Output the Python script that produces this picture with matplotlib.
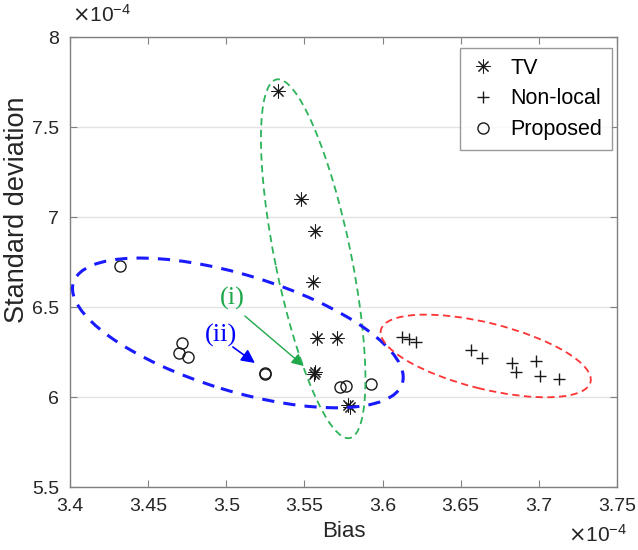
import numpy as np
import matplotlib
matplotlib.use("Agg")
import matplotlib.pyplot as plt
from matplotlib.patches import Ellipse
from matplotlib.transforms import IdentityTransform

# values in units of 1e-4
tv_bias = [3.533, 3.548, 3.557, 3.5556, 3.558, 3.571, 3.5562, 3.5565, 3.5776, 3.579]
tv_std = [7.70, 7.10, 6.92, 6.64, 6.33, 6.33, 6.13, 6.14, 5.955, 5.945]

nl_bias = [3.6127, 3.617, 3.6217, 3.6568, 3.6634, 3.683, 3.6856, 3.6984, 3.7007, 3.7127]
nl_std = [6.335, 6.32, 6.304, 6.261, 6.215, 6.19, 6.141, 6.202, 6.117, 6.098]

pr_bias = [3.432, 3.4718, 3.4697, 3.4752, 3.5247, 3.5250, 3.5726, 3.5765, 3.5929]
pr_std = [6.73, 6.30, 6.243, 6.22, 6.128, 6.132, 6.057, 6.061, 6.072]

xticks = [3.4, 3.45, 3.5, 3.55, 3.6, 3.65, 3.7, 3.75]
yticks = [5.5, 6, 6.5, 7, 7.5, 8]

plt.rcParams['font.family'] = ['Liberation Sans', 'DejaVu Sans']

fig = plt.figure(figsize=(6.38, 5.5), dpi=100)
ax = fig.add_axes([70 / 638, 63 / 550, 547 / 638, 450 / 550])

ax.set_xlim(3.4, 3.75)
ax.set_ylim(5.5, 8)
ax.set_xticks(xticks)
ax.set_yticks(yticks)
ax.set_xticklabels([f"{v:g}" for v in xticks])
ax.set_yticklabels([f"{v:g}" for v in yticks])
ax.tick_params(direction='in', top=True, right=True, length=5, width=0.8,
               colors='#808080', labelcolor='#262626', labelsize=14, pad=8)
for s in ax.spines.values():
    s.set_color('#808080')
    s.set_linewidth(1.0)
ax.yaxis.grid(True, color='#e3e3e3', linewidth=1.0)
ax.set_axisbelow(True)

ax.plot(tv_bias, tv_std, linestyle='none', marker=(8, 2, 0), markersize=10,
        color='#1a1a1a', markeredgewidth=0.75, label='TV')
ax.plot(nl_bias, nl_std, linestyle='none', marker='+', markersize=9,
        color='#1a1a1a', markeredgewidth=1.0, label='Non-local')
ax.plot(pr_bias, pr_std, linestyle='none', marker='o', markersize=8,
        markerfacecolor='none', markeredgecolor='#1a1a1a', markeredgewidth=1.0,
        label='Proposed')

ax.set_xlabel('Bias', fontsize=16, color='#262626', labelpad=4)
fig.text(17 / 638, 1 - 210 / 550, 'Standard deviation', fontsize=19.5,
         color='#262626', rotation=90, ha='center', va='center')

fig.text(72 / 638, 1 - 22 / 550, r'$\times\mathregular{10^{-4}}$', fontsize=15, color='#262626')
fig.text(568 / 638, 1 - 542 / 550, r'$\times\mathregular{10^{-4}}$', fontsize=15, color='#262626')

leg = ax.legend(loc='upper right', bbox_to_anchor=(0.991, 0.9756), borderaxespad=0,
                fontsize=15.5, frameon=True, fancybox=False, edgecolor='#808080',
                handlelength=1.2, handletextpad=0.7, borderpad=0.45, labelspacing=0.45)
leg.get_frame().set_linewidth(1.0)

# group ellipses, drawn in pixel space around data centres
fig.canvas.draw()


def group_ellipse(cx, cy, w, h, ang, color, lw, dashes):
    px, py = ax.transData.transform((cx, cy))
    e = Ellipse((px, py), w, h, angle=ang, transform=IdentityTransform(),
                fill=False, edgecolor=color, linewidth=lw, linestyle=(0, dashes))
    fig.add_artist(e)


group_ellipse(3.5556, 6.768, 366, 76, -78.45, '#2db35a', 1.3, (4, 2.5))
group_ellipse(3.5074, 6.356, 344, 116, -17, '#1a1aff', 2.2, (4, 3))
group_ellipse(3.666, 6.228, 216, 66, -14, '#ff3333', 1.3, (4, 2.5))

# annotations
ax.annotate('', xy=(3.5496, 6.172), xytext=(3.5119, 6.45),
            arrowprops=dict(arrowstyle='-|>', color='#1fa84a', lw=1.0,
                            mutation_scale=18, shrinkA=0, shrinkB=0))
ax.text(3.5036, 6.55, '(i)', color='#1fa84a', fontsize=19,
        family='Liberation Serif', ha='center', va='center')

ax.annotate('', xy=(3.5183, 6.189), xytext=(3.5042, 6.278),
            arrowprops=dict(arrowstyle='-|>', color='#0000ff', lw=1.2,
                            mutation_scale=20, shrinkA=0, shrinkB=0))
ax.text(3.4965, 6.344, '(ii)', color='#0000ff', fontsize=19,
        family='Liberation Serif', ha='center', va='center')

fig.savefig('out.png', dpi=100)
